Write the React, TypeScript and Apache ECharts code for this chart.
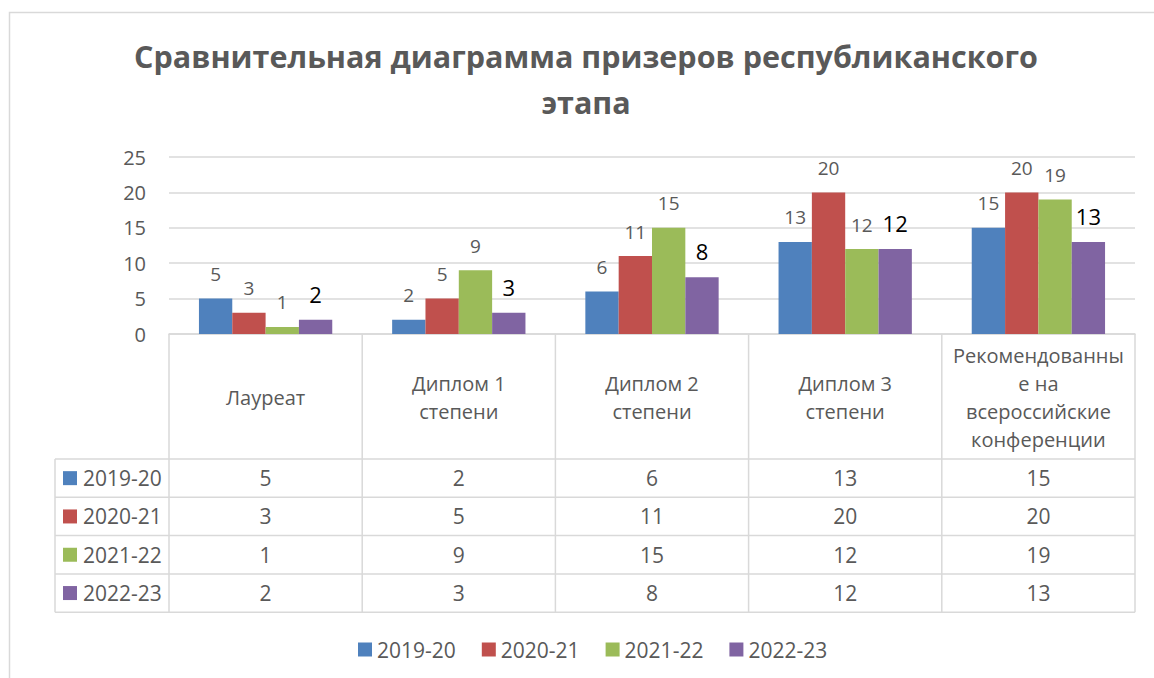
import React, { useEffect, useRef } from "react";
import * as echarts from "echarts";

const categories = [
  "Лауреат",
  "Диплом 1\nстепени",
  "Диплом 2\nстепени",
  "Диплом 3\nстепени",
  "Рекомендованны\nе на\nвсероссийские\nконференции",
];
const seriesNames = ["2019-20", "2020-21", "2021-22", "2022-23"];
const s2019 = [5, 2, 6, 13, 15];
const s2020 = [3, 5, 11, 20, 20];
const s2021 = [1, 9, 15, 12, 19];
const s2022 = [2, 3, 8, 12, 13];
const colors = ["#4F81BD", "#C0504D", "#9BBB59", "#8064A2"];
const titleText = "Сравнительная диаграмма призеров республиканского\nэтапа";

const FONT = "'Open Sans', 'Noto Sans', sans-serif";
const GREY = "#595959";
const LINE = "#d9d9d9";

export default function App() {
  const ref = useRef<HTMLDivElement>(null);
  useEffect(() => {
    if (!ref.current) return;
    const chart = echarts.init(ref.current, null, { renderer: "svg" });
    const allSeries = [s2019, s2020, s2021, s2022];

    const gridLeft = 169;
    const gridRight = 1135;
    const axisY = 334;
    const colW = (gridRight - gridLeft) / categories.length;
    const headerBottom = 459;
    const rowH = 38.3;
    const tableLeft = 55;
    const tableBottom = headerBottom + rowH * seriesNames.length;

    const graphics: any[] = [];
    graphics.push({
      type: "rect",
      shape: { x: 9.5, y: 12.5, width: 1170, height: 700 },
      style: { fill: "none", stroke: LINE, lineWidth: 1.5 },
      silent: true,
    });
    for (let r = 0; r <= seriesNames.length; r++) {
      const y = headerBottom + r * rowH;
      graphics.push({
        type: "line",
        shape: { x1: tableLeft, y1: y, x2: gridRight, y2: y },
        style: { stroke: LINE, lineWidth: 1.5 },
        silent: true,
      });
    }
    graphics.push({
      type: "line",
      shape: { x1: tableLeft, y1: headerBottom, x2: tableLeft, y2: tableBottom },
      style: { stroke: LINE, lineWidth: 1.5 },
      silent: true,
    });
    for (let c = 0; c <= categories.length; c++) {
      const x = gridLeft + c * colW;
      graphics.push({
        type: "line",
        shape: { x1: x, y1: axisY, x2: x, y2: tableBottom },
        style: { stroke: LINE, lineWidth: 1.5 },
        silent: true,
      });
    }
    seriesNames.forEach((name, r) => {
      const cy = headerBottom + r * rowH + rowH / 2;
      graphics.push({
        type: "rect",
        shape: { x: 63, y: cy - 7, width: 14, height: 14 },
        style: { fill: colors[r] },
        silent: true,
      });
      graphics.push({
        type: "text",
        x: 83,
        y: cy,
        style: {
          text: name,
          fill: GREY,
          font: `21px ${FONT}`,
          textAlign: "left",
          textVerticalAlign: "middle",
        },
        silent: true,
      });
      allSeries[r].forEach((v, c) => {
        graphics.push({
          type: "text",
          x: gridLeft + c * colW + colW / 2,
          y: cy,
          style: {
            text: String(v),
            fill: GREY,
            font: `21px ${FONT}`,
            textAlign: "center",
            textVerticalAlign: "middle",
          },
          silent: true,
        });
      });
    });

    chart.setOption({
      animation: false,
      textStyle: { fontFamily: FONT },
      title: {
        text: titleText,
        left: 581,
        top: 28,
        textAlign: "center",
        textStyle: {
          fontFamily: FONT,
          fontSize: 30.5,
          fontWeight: "bold",
          color: GREY,
          lineHeight: 46,
        },
      },
      legend: {
        data: seriesNames,
        left: 353,
        top: 634,
        icon: "rect",
        itemWidth: 14,
        itemHeight: 14,
        itemGap: 26,
        textStyle: { fontFamily: FONT, fontSize: 21, color: GREY },
      },
      grid: { left: gridLeft, right: 1154 - gridRight, top: 157, bottom: 678 - axisY },
      xAxis: {
        type: "category",
        data: categories,
        axisLine: { show: true, lineStyle: { color: LINE, width: 1.5 } },
        axisTick: { show: false },
        axisLabel: {
          interval: 0,
          margin: 63,
          verticalAlign: "middle",
          color: GREY,
          fontFamily: FONT,
          fontSize: 20,
          lineHeight: 28,
        },
      },
      yAxis: {
        type: "value",
        min: 0,
        max: 25,
        interval: 5,
        axisLine: { show: false },
        axisTick: { show: false },
        axisLabel: { color: GREY, fontFamily: FONT, fontSize: 20, margin: 23 },
        splitLine: { lineStyle: { color: LINE, width: 1.5 } },
      },
      series: allSeries.map((d, i) => ({
        name: seriesNames[i],
        type: "bar",
        data: d,
        barGap: "0%",
        barCategoryGap: "31%",
        itemStyle: { color: colors[i] },
        label: {
          show: true,
          position: "top",
          distance: 15,
          color: i === 3 ? "#000000" : GREY,
          fontSize: i === 3 ? 22 : 19,
          fontFamily: FONT,
        },
      })),
      graphic: graphics,
    });
    return () => chart.dispose();
  }, []);
  return (
    <div
      ref={ref}
      style={{ position: "fixed", left: 0, top: 0, width: 1154, height: 678, background: "#fff" }}
    />
  );
}
